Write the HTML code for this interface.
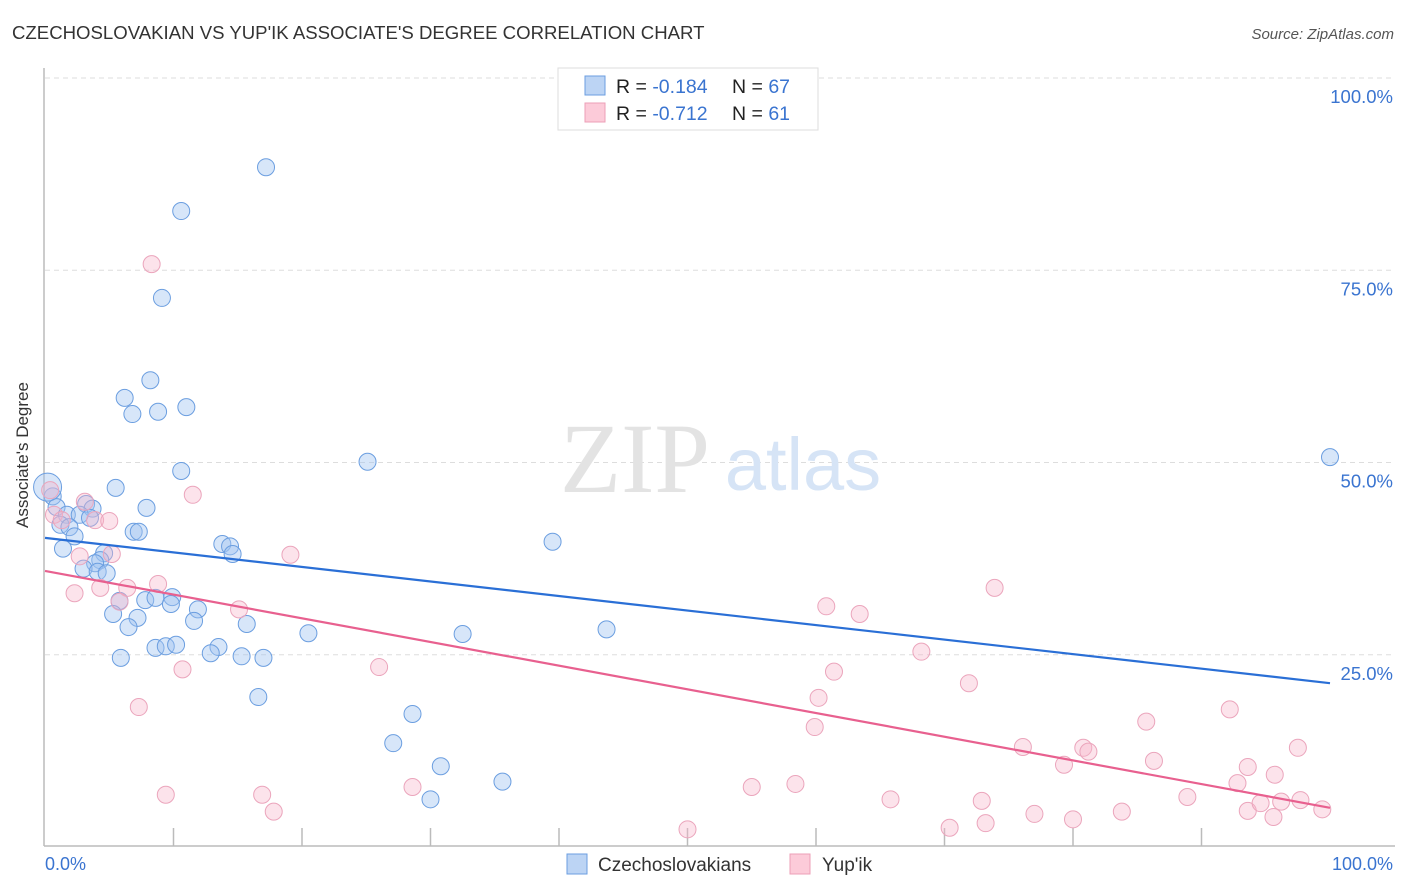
<!DOCTYPE html>
<html><head><meta charset="utf-8"><style>
body{margin:0;background:#fff;font-family:"Liberation Sans",sans-serif}
svg{display:block}
</style></head><body>
<svg width="1406" height="892" xmlns="http://www.w3.org/2000/svg">
<text x="12" y="39" font-size="18.6" fill="#333">CZECHOSLOVAKIAN VS YUP'IK ASSOCIATE'S DEGREE CORRELATION CHART</text>
<text x="1394" y="39" font-size="15" fill="#555" font-style="italic" text-anchor="end">Source: ZipAtlas.com</text>
<g id="grid"></g>
<g>
<text x="635" y="492" font-size="100" font-family="Liberation Serif,serif" fill="#e3e3e3" text-anchor="middle">ZIP</text>
<text x="803" y="490" font-size="74" fill="#d6e4f6" text-anchor="middle">atlas</text>
</g>
<line x1="44" y1="68" x2="44" y2="846" stroke="#bbb" stroke-width="1.5"/>
<line x1="44" y1="846" x2="1395" y2="846" stroke="#bbb" stroke-width="1.5"/>
<g id="ticks"></g>
<g id="pts"></g>
<g id="lines"></g>
<text x="28" y="455" font-size="17" fill="#333" text-anchor="middle" transform="rotate(-90 28 455)">Associate's Degree</text>
<text x="45" y="870" font-size="18" fill="#3a74d0">0.0%</text>
<text x="1393" y="870" font-size="18" fill="#3a74d0" text-anchor="end">100.0%</text>
<g>
<rect x="558" y="68" width="260" height="62" fill="#fff" stroke="#ddd"/>
<rect x="585" y="76" width="20" height="19" fill="#bcd4f4" stroke="#6b9ee0"/>
<rect x="585" y="103" width="20" height="19" fill="#fccbd9" stroke="#ec9fb7"/>
<text x="616" y="93" font-size="19.5" fill="#222">R = <tspan fill="#3a74d0">-0.184</tspan></text>
<text x="732" y="93" font-size="19.5" fill="#222">N = <tspan fill="#3a74d0">67</tspan></text>
<text x="616" y="120" font-size="19.5" fill="#222">R = <tspan fill="#3a74d0">-0.712</tspan></text>
<text x="732" y="120" font-size="19.5" fill="#222">N = <tspan fill="#3a74d0"> 61</tspan></text>
</g>
<g>
<rect x="567" y="854" width="20" height="20" fill="#bcd4f4" stroke="#6b9ee0"/>
<text x="598" y="871" font-size="19" fill="#333">Czechoslovakians</text>
<rect x="790" y="854" width="20" height="20" fill="#fccbd9" stroke="#ec9fb7"/>
<text x="822" y="871" font-size="19" fill="#333">Yup'ik</text>
</g>
</svg>
<script>
const yTicks=[25,50,75,100];
const yTickLabels=["25.0%","50.0%","75.0%","100.0%"];
const xTicks=[10,20,30,40,50,60,70,80,90];
const blueX=[17.2,10.6,9.1,8.2,6.2,6.8,8.8,11.0,10.6,25.1,100,0.6,5.5,0.9,3.2,3.7,7.9,1.7,2.7,3.5,1.2,1.9,6.9,7.3,2.3,13.8,14.4,14.6,39.5,1.4,4.6,4.3,3.9,3.0,4.1,4.8,5.8,7.8,8.6,9.9,9.8,11.9,5.3,7.2,11.6,6.5,15.7,20.5,32.5,43.7,8.6,9.4,10.2,13.5,12.9,15.3,17.0,5.9,16.6,28.6,27.1,30.8,30.0,35.6,0.2];
const blueY=[88.4,82.7,71.4,60.7,58.4,56.3,56.6,57.2,48.9,50.1,50.7,45.6,46.7,44.2,44.6,44.0,44.1,43.2,43.2,42.8,41.9,41.6,41.0,41.0,40.4,39.4,39.1,38.1,39.7,38.8,38.2,37.3,36.9,36.2,35.8,35.6,32.0,32.1,32.4,32.5,31.6,30.9,30.3,29.8,29.4,28.6,29.0,27.8,27.7,28.3,25.9,26.1,26.3,26.0,25.2,24.8,24.6,24.6,19.5,17.3,13.5,10.5,6.2,8.5,46.8];
const pinkX=[8.3,11.5,3.1,0.4,0.7,1.3,3.9,5.0,2.7,5.2,19.1,8.8,2.3,4.3,6.4,5.8,15.1,73.9,60.8,63.4,10.7,26.0,61.4,68.2,71.9,60.2,7.3,59.9,85.7,92.2,76.1,80.8,81.2,79.3,86.3,97.5,93.6,95.7,92.8,9.4,16.9,17.8,28.6,55.0,58.4,65.8,72.9,73.2,70.4,77.0,80.0,83.8,88.9,93.6,94.6,96.2,97.7,95.6,99.4,50.0];
const pinkY=[75.8,45.8,44.9,46.4,43.2,42.5,42.5,42.4,37.8,38.1,38.0,34.2,33.0,33.7,33.7,31.9,30.9,33.7,31.3,30.3,23.1,23.4,22.8,25.4,21.3,19.4,18.2,15.6,16.3,17.9,13.0,12.9,12.4,10.7,11.2,12.9,10.4,9.4,8.3,6.8,6.8,4.6,7.8,7.8,8.2,6.2,6.0,3.1,2.5,4.3,3.6,4.6,6.5,4.7,5.7,5.9,6.1,3.9,4.9,2.3];
const blueLine=[40.2,21.3];
const pinkLine=[35.9,5.1];
const NS="http://www.w3.org/2000/svg";
const sx=v=>45+v*12.85, sy=v=>847-v*7.69;
function mk(t,a,p){const e=document.createElementNS(NS,t);for(const k in a)e.setAttribute(k,a[k]);p.appendChild(e);return e;}
const grid=document.getElementById('grid');
yTicks.forEach((t,i)=>{
 const l=mk('line',{x1:45,x2:1395,y1:sy(t),y2:sy(t),stroke:'#ddd','stroke-dasharray':'5,4'},grid);
 
 
 const tx=mk('text',{x:1393,y:sy(t)+25,'font-size':18.5,fill:'#3a74d0','text-anchor':'end'},grid);
 tx.textContent=yTickLabels[i];
 
 
});
const ticks=document.getElementById('ticks');
xTicks.forEach(t=>{
 const l=mk('line',{x1:sx(t),x2:sx(t),y1:828,y2:846,stroke:'#bbb','stroke-width':1.5},ticks);
 
 
});
const pts=document.getElementById('pts');
blueX.forEach((x,i)=>{
 const big=i===blueX.length-1;
 const c=mk('circle',{cx:sx(x),cy:sy(blueY[i]),r:big?14:8.5,fill:'rgba(160,196,240,0.42)',stroke:'#6b9ee0','stroke-width':1},pts);
 
 
});
pinkX.forEach((x,i)=>{
 const c=mk('circle',{cx:sx(x),cy:sy(pinkY[i]),r:8.5,fill:'rgba(248,182,202,0.38)',stroke:'#eba5bc','stroke-width':1},pts);
 
 
});
const lines=document.getElementById('lines');
const bl=mk('line',{x1:sx(0),y1:sy(blueLine[0]),x2:sx(100),y2:sy(blueLine[1]),stroke:'#2a6fd6','stroke-width':2.2},lines);


const pl=mk('line',{x1:sx(0),y1:sy(pinkLine[0]),x2:sx(100),y2:sy(pinkLine[1]),stroke:'#e8608f','stroke-width':2.2},lines);


</script>
</body></html>
